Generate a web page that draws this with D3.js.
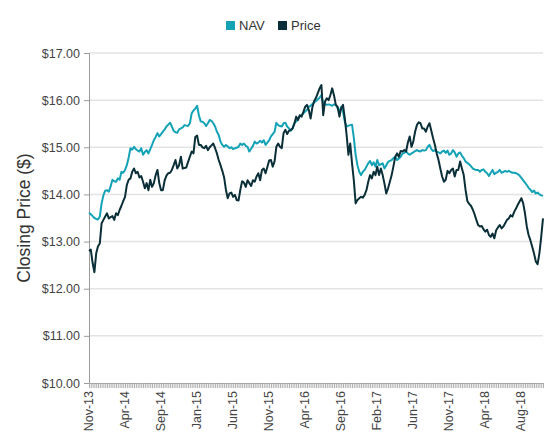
<!DOCTYPE html>
<html lang="en">
<head>
<meta charset="utf-8">
<title>Closing Price</title>
<script src="https://cdn.jsdelivr.net/npm/d3@7"></script>
<style>
  body { margin: 0; background: #fff; }
  svg text { font-family: "Liberation Sans", Arial, sans-serif; }
</style>
</head>
<body>
<div id="chart-container"></div>
<script>

// weekly closing values, Nov-13 .. Nov-18
var navValues = [
  13.61, 13.58, 13.54, 13.50, 13.48, 13.47, 13.53, 13.81, 13.98, 14.08,
  14.09, 14.06, 14.17, 14.31, 14.28, 14.27, 14.34, 14.31, 14.48, 14.46,
  14.52, 14.62, 14.78, 14.98, 14.95, 15.01, 14.96, 14.93, 14.91, 14.98,
  14.84, 14.90, 14.94, 14.87, 14.96, 15.05, 15.15, 15.22, 15.30, 15.23,
  15.28, 15.33, 15.38, 15.44, 15.48, 15.52, 15.44, 15.35, 15.32, 15.31,
  15.38, 15.40, 15.42, 15.47, 15.46, 15.45, 15.51, 15.72, 15.78, 15.82,
  15.88, 15.68, 15.55, 15.54, 15.51, 15.45, 15.51, 15.58, 15.56, 15.51,
  15.44, 15.33, 15.26, 15.12, 15.05, 15.01, 15.05, 15.02, 14.98, 15.00,
  14.96, 14.98, 14.99, 15.01, 15.08, 15.05, 15.08, 15.03, 15.01, 14.91,
  14.97, 15.03, 15.12, 15.08, 15.10, 15.14, 15.10, 15.15, 15.05, 15.10,
  15.15, 15.23, 15.28, 15.33, 15.52, 15.47, 15.45, 15.44, 15.51, 15.52,
  15.44, 15.40, 15.35, 15.40, 15.51, 15.55, 15.58, 15.66, 15.68, 15.72,
  15.76, 15.79, 15.86, 15.88, 15.92, 15.95, 15.98, 16.02, 16.05, 16.11,
  15.93, 15.92, 15.90, 15.91, 15.90, 15.88, 15.91, 15.90, 15.83, 15.76,
  15.86, 15.76, 15.54, 15.44, 15.46, 15.47, 15.48, 15.20, 14.84, 14.62,
  14.48, 14.41, 14.48, 14.52, 14.59, 14.66, 14.71, 14.62, 14.68, 14.59,
  14.73, 14.62, 14.64, 14.66, 14.55, 14.62, 14.69, 14.71, 14.73, 14.77,
  14.80, 14.73, 14.76, 14.80, 14.87, 14.88, 14.91, 14.87, 14.84, 14.87,
  14.89, 14.92, 14.94, 14.92, 14.91, 14.94, 14.93, 14.94, 15.01, 15.05,
  14.96, 14.92, 14.94, 14.91, 14.89, 14.87, 14.91, 14.93, 14.88, 14.93,
  14.84, 14.87, 14.94, 14.89, 14.80, 14.87, 14.89, 14.82, 14.77, 14.70,
  14.67, 14.64, 14.60, 14.55, 14.53, 14.52, 14.52, 14.48, 14.52, 14.53,
  14.48, 14.45, 14.39, 14.46, 14.52, 14.43, 14.46, 14.48, 14.52, 14.46,
  14.48, 14.50, 14.48, 14.50, 14.48, 14.46, 14.46, 14.45, 14.43, 14.40,
  14.35, 14.30, 14.25, 14.20, 14.14, 14.10, 14.05, 14.08, 14.02, 14.04,
  14.00, 13.98, 13.97
];

var priceValues = [
  12.80, 12.83, 12.55, 12.35, 12.75, 12.90, 12.96, 13.39, 13.46, 13.53,
  13.60, 13.49, 13.52, 13.54, 13.46, 13.60, 13.56, 13.67, 13.76, 13.86,
  13.95, 14.20, 14.31, 14.34, 14.48, 14.55, 14.45, 14.48, 14.36, 14.39,
  14.27, 14.13, 14.24, 14.09, 14.31, 14.16, 14.24, 14.41, 14.52, 14.24,
  14.09, 14.09, 14.30, 14.40, 14.45, 14.46, 14.52, 14.62, 14.73, 14.55,
  14.62, 14.80, 14.55, 14.56, 14.57, 14.69, 14.80, 14.91, 14.87, 15.22,
  15.25, 15.05, 15.05, 15.00, 14.98, 15.03, 14.94, 15.00, 15.04, 15.08,
  14.98, 14.87, 14.73, 14.62, 14.50, 14.36, 14.10, 13.92, 14.02, 14.04,
  13.95, 13.99, 13.88, 13.87, 14.10, 14.28, 14.25, 14.16, 14.30, 14.24,
  14.18, 14.30, 14.27, 14.38, 14.45, 14.30, 14.52, 14.55, 14.45, 14.58,
  14.72, 14.73, 14.59, 14.70, 15.01, 15.08, 15.01, 14.98, 15.30, 15.37,
  15.28, 15.35, 15.37, 15.40, 15.50, 15.65, 15.58, 15.68, 15.65, 15.75,
  15.86, 15.90, 15.79, 15.61, 15.85, 15.98, 16.05, 16.15, 16.25, 16.32,
  15.68, 15.97, 16.04, 16.00, 16.11, 16.25, 16.10, 15.90, 15.86, 15.65,
  15.83, 15.90, 15.61, 15.26, 14.84, 15.08, 14.66, 14.30, 13.81, 13.88,
  13.92, 13.95, 13.93, 13.99, 14.09, 14.27, 14.41, 14.34, 14.48, 14.41,
  14.59, 14.41, 14.55, 14.41, 14.23, 14.02, 14.13, 14.27, 14.41, 14.60,
  14.80, 14.87, 14.80, 14.92, 14.91, 14.94, 14.91, 15.10, 15.23, 15.01,
  15.12, 15.33, 15.47, 15.53, 15.51, 15.40, 15.40, 15.33, 15.44, 15.51,
  15.35, 15.19, 15.05, 14.87, 14.73, 14.55, 14.38, 14.27, 14.31, 14.50,
  14.45, 14.52, 14.55, 14.38, 14.52, 14.52, 14.70, 14.55, 14.41, 14.10,
  13.86, 13.80, 13.76, 13.68, 13.58, 13.46, 13.35, 13.32, 13.33, 13.26,
  13.21, 13.25, 13.14, 13.10, 13.17, 13.07, 13.24, 13.30, 13.35, 13.28,
  13.32, 13.39, 13.46, 13.49, 13.56, 13.53, 13.63, 13.70, 13.78, 13.85,
  13.92, 13.81, 13.60, 13.32, 13.14, 13.03, 12.89, 12.75, 12.58, 12.52,
  12.75, 13.10, 13.49
];

// a label is shown on every 20th week
var tickLabels = ["Nov-13", "Apr-14", "Sep-14", "Jan-15", "Jun-15", "Nov-15", "Apr-16",
                  "Sep-16", "Feb-17", "Jun-17", "Nov-17", "Apr-18", "Aug-18"];
var labelEvery = 20;
var yTicks = [10, 11, 12, 13, 14, 15, 16, 17];

var seriesNames = ["NAV", "Price"];
var seriesColors = ["#14a3b6", "#0b2f38"];

var width = 552, height = 445;
var margin = { top: 53, right: 9, bottom: 62, left: 89 };

var svg = d3.select("#chart-container").append("svg")
    .attr("width", width)
    .attr("height", height);

var weeks = d3.range(navValues.length);

var x = d3.scalePoint()
    .domain(weeks)
    .range([margin.left, width - margin.right]);

var y = d3.scaleLinear()
    .domain([10, 17])
    .range([height - margin.bottom, margin.top]);

// grid lines
svg.append("g")
  .selectAll("line")
  .data(yTicks.slice(1))
  .enter().append("line")
    .attr("x1", margin.left)
    .attr("x2", width - margin.right)
    .attr("y1", function(d) { return y(d); })
    .attr("y2", function(d) { return y(d); })
    .attr("stroke", "#e3e3e3")
    .attr("stroke-width", 1.5);

// y axis
var yAxis = svg.append("g")
    .attr("transform", "translate(" + margin.left + ",0)")
    .call(d3.axisLeft(y).tickValues(yTicks).tickSize(5).tickPadding(4)
      .tickFormat(function(d) { return "$" + d3.format(".2f")(d); }));
yAxis.select(".domain").attr("stroke", "#9a9a9a");
yAxis.selectAll(".tick line").attr("stroke", "#9a9a9a");
yAxis.selectAll("text").attr("fill", "#444").style("font-size", "12.5px");

// x axis: a tick on every week, labels on every 20th
var xAxis = svg.append("g")
    .attr("transform", "translate(0," + (height - margin.bottom) + ")")
    .call(d3.axisBottom(x).tickSize(5).tickPadding(5)
      .tickFormat(function(d) { return d % labelEvery === 0 ? tickLabels[d / labelEvery] : ""; }));
xAxis.select(".domain").attr("stroke", "#9a9a9a");
xAxis.selectAll(".tick line").attr("stroke", "#b0b0b0");
xAxis.selectAll("text")
    .attr("fill", "#444")
    .style("font-size", "12.5px")
    .attr("transform", "rotate(-90)")
    .attr("text-anchor", "end")
    .attr("x", -8)
    .attr("y", -1)
    .attr("dy", "0.35em");

// y title
svg.append("text")
    .attr("transform", "translate(30," + ((margin.top + height - margin.bottom) / 2) + ") rotate(-90)")
    .attr("text-anchor", "middle")
    .attr("fill", "#333")
    .style("font-size", "17.5px")
    .text("Closing Price ($)");

var line = d3.line()
    .x(function(d, i) { return x(i); })
    .y(function(d) { return y(d); });

[navValues, priceValues].forEach(function(vals, k) {
  svg.append("path")
      .datum(vals)
      .attr("fill", "none")
      .attr("stroke", seriesColors[k])
      .attr("stroke-width", 2)
      .attr("stroke-linejoin", "round")
      .attr("d", line);
});

// legend
var legend = svg.append("g").attr("transform", "translate(226,20)");
var legendX = [0, 52];
seriesNames.forEach(function(name, k) {
  var g = legend.append("g").attr("transform", "translate(" + legendX[k] + ",0)");
  g.append("rect").attr("width", 9).attr("height", 9).attr("y", 1).attr("fill", seriesColors[k]);
  g.append("text").attr("x", 13).attr("y", 10)
      .attr("fill", "#333").style("font-size", "13px").text(name);
});

</script>
</body>
</html>
